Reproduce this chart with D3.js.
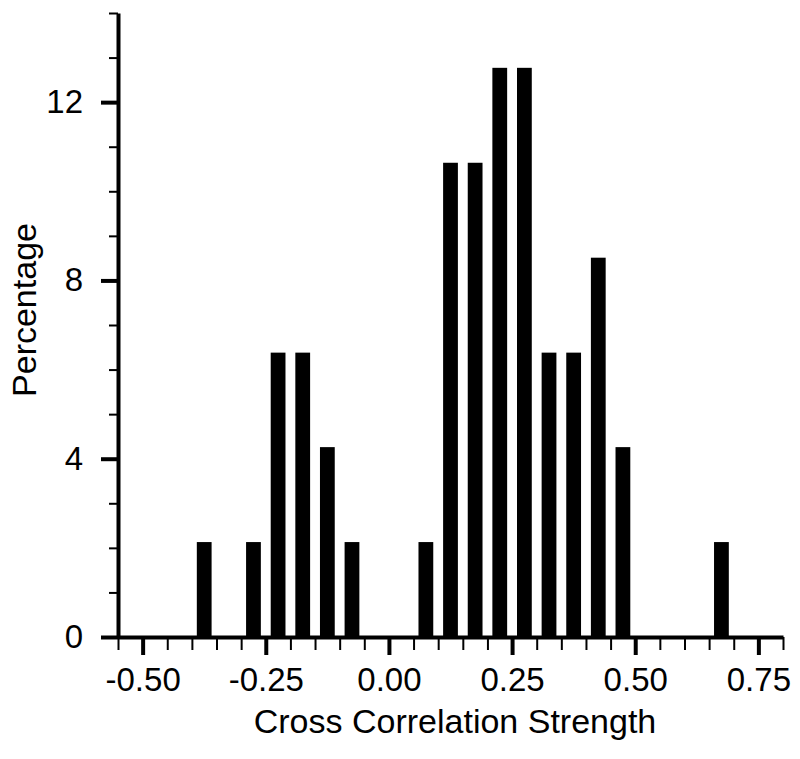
<!DOCTYPE html>
<html>
<head>
<meta charset="utf-8">
<script src="https://cdn.jsdelivr.net/npm/d3@7"></script>
<style>
    body { margin: 0; background: #fff; }
    svg { display: block; font-family: "Liberation Sans", Arial, Helvetica, sans-serif; }
</style>
</head>
<body>
<div id="chart"></div>
<script>
// bin centres (cross correlation) and percentage of cases in each bin
const binCenters = [-0.375, -0.275, -0.225, -0.175, -0.125, -0.075, 0.075, 0.125,
                    0.175, 0.225, 0.275, 0.325, 0.375, 0.425, 0.475, 0.675];
const percentages = [2.13, 2.13, 6.38, 6.38, 4.26, 2.13, 2.13, 10.64,
                     10.64, 12.77, 12.77, 6.38, 6.38, 8.51, 4.26, 2.13];
const xMajorTicks = [-0.50, -0.25, 0.00, 0.25, 0.50, 0.75];
const yMajorTicks = [0, 4, 8, 12];
const xLabel = 'Cross Correlation Strength';
const yLabel = 'Percentage';

const W = 800, H = 759;
const binWidth = 0.03;

const svg = d3.select('#chart').append('svg')
    .attr('width', W)
    .attr('height', H);

const x = d3.scaleLinear().domain([-0.55, 0.80]).range([118, 783]);
const y = d3.scaleLinear().domain([0, 14]).range([637, 13]);

// bars
svg.append('g')
    .selectAll('rect')
    .data(binCenters.map((c, i) => ({ c, v: percentages[i] })))
    .enter()
    .append('rect')
    .attr('x', d => x(d.c - binWidth / 2))
    .attr('width', d => x(d.c + binWidth / 2) - x(d.c - binWidth / 2))
    .attr('y', d => y(d.v))
    .attr('height', d => y(0) - y(d.v))
    .attr('fill', '#000');

// minor ticks first, no labels
const xMinor = d3.range(-0.55, 0.8001, 0.05).map(v => +v.toFixed(2));
svg.append('g')
    .attr('class', 'x-minor')
    .attr('transform', `translate(0, ${y(0)})`)
    .call(d3.axisBottom(x).tickValues(xMinor).tickSize(13).tickSizeOuter(0).tickFormat(''))
    .call(g => g.select('.domain').remove())
    .selectAll('line').attr('stroke-width', 2);

const yMinor = d3.range(0, 15, 1);
svg.append('g')
    .attr('class', 'y-minor')
    .attr('transform', `translate(${x(-0.55)}, 0)`)
    .call(d3.axisLeft(y).tickValues(yMinor).tickSize(9).tickSizeOuter(0).tickFormat(''))
    .call(g => g.select('.domain').remove())
    .selectAll('line').attr('stroke-width', 2);

// major axes
const xAxis = svg.append('g')
    .attr('transform', `translate(0, ${y(0)})`)
    .call(d3.axisBottom(x).tickValues(xMajorTicks).tickSize(18).tickSizeOuter(0)
        .tickPadding(13).tickFormat(d => d.toFixed(2)));

const yAxis = svg.append('g')
    .attr('transform', `translate(${x(-0.55)}, 0)`)
    .call(d3.axisLeft(y).tickValues(yMajorTicks).tickSize(17).tickSizeOuter(0)
        .tickPadding(18));

[xAxis, yAxis].forEach(g => {
    g.select('.domain').attr('stroke-width', 4);
    g.selectAll('.tick line').attr('stroke-width', 4);
    g.selectAll('.tick text')
        .style('font-size', '33px')
        .style('font-family', '"Liberation Sans", Arial, sans-serif')
        .attr('fill', '#000');
});

// axis titles
svg.append('text')
    .attr('x', 455)
    .attr('y', 733)
    .attr('text-anchor', 'middle')
    .style('font-size', '34px')
    .text(xLabel);

svg.append('text')
    .attr('transform', 'rotate(-90)')
    .attr('x', -310)
    .attr('y', 36)
    .attr('text-anchor', 'middle')
    .style('font-size', '34px')
    .text(yLabel);
</script>
</body>
</html>
